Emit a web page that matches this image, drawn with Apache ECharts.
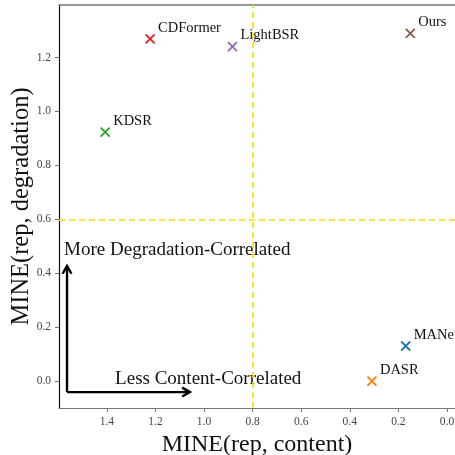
<!DOCTYPE html>
<html><head><meta charset="utf-8">
<script src="https://cdn.jsdelivr.net/npm/echarts@6/dist/echarts.min.js"></script>
<style>html,body{margin:0;padding:0;background:#fff}#c{width:455px;height:455px}</style>
</head><body><div id="c"></div>
<script>
const methods = ['MANet', 'DASR', 'KDSR', 'CDFormer', 'LightBSR', 'Ours'];
const contentMI = [0.170, 0.309, 1.407, 1.222, 0.883, 0.151];
const degradationMI = [0.130, 0.000, 0.923, 1.269, 1.241, 1.290];
const colors = ['#1f77b4', '#ff7f0e', '#2ca02c', '#d62728', '#9467bd', '#8c564b'];
const xTicks = [0.0, 0.2, 0.4, 0.6, 0.8, 1.0, 1.2, 1.4];
const yTicks = [0.0, 0.2, 0.4, 0.6, 0.8, 1.0, 1.2];
const thresholdX = 0.8, thresholdY = 0.6;
const arrows = [[1.564, -0.041, 1.564, 0.427], [1.564, -0.041, 1.058, -0.041]];
const notes = [['More Degradation-Correlated', 1.576, 0.487], ['Less Content-Correlated', 1.366, 0.0085]];

const serif = '"Liberation Serif", "DejaVu Serif", serif';
const chart = echarts.init(document.getElementById('c'));
const markerPath = 'path://M0,0L10,10M10,0L0,10';

const pointSeries = methods.map((m, i) => ({
  type: 'scatter',
  name: m,
  data: [[contentMI[i], degradationMI[i]]],
  symbol: markerPath,
  symbolSize: 9,
  itemStyle: { color: 'none', borderColor: colors[i], borderWidth: 1.8, opacity: 1 },
  label: {
    show: true, formatter: m, position: 'right', offset: [-4, -11],
    fontFamily: serif, fontSize: 14.5, color: '#111'
  },
  z: 5
}));

chart.setOption({
  animation: false,
  grid: { left: 59, top: 5, right: 0, bottom: 47, show: false, containLabel: false, outerBoundsMode: 'none' },
  xAxis: [{
    type: 'value', inverse: true, min: -0.033, max: 1.597,
    axisLine: { show: true, onZero: false, lineStyle: { color: '#777', width: 1.2 } },
    axisTick: { show: true, customValues: xTicks, length: 4, lineStyle: { color: '#777' } },
    axisLabel: { customValues: xTicks, formatter: v => v.toFixed(1), fontFamily: serif, fontSize: 11.5, color: '#444', margin: 8, hideOverlap: false },
    splitLine: { show: false },
    name: 'MINE(rep, content)', nameLocation: 'middle', nameGap: 22,
    nameTextStyle: { fontFamily: serif, fontSize: 24, color: '#111' }
  }, {
    type: 'value', inverse: true, min: -0.033, max: 1.597, position: 'top',
    axisLine: { show: true, onZero: false, lineStyle: { color: '#777', width: 1.5 } },
    axisTick: { show: false }, axisLabel: { show: false }, splitLine: { show: false }
  }],
  yAxis: {
    type: 'value', min: -0.1, max: 1.395,
    axisLine: { show: true, onZero: false, lineStyle: { color: '#111', width: 1.2 } },
    axisTick: { show: true, customValues: yTicks, length: 4, lineStyle: { color: '#777' } },
    axisLabel: { customValues: yTicks, formatter: v => v.toFixed(1), fontFamily: serif, fontSize: 11.5, color: '#444', margin: 8 },
    splitLine: { show: false },
    name: 'MINE(rep, degradation)', nameLocation: 'middle', nameGap: 25, nameMoveOverlap: false,
    nameTextStyle: { fontFamily: serif, fontSize: 24.5, color: '#111' }
  },
  series: [
    {
      type: 'line', data: [], silent: true,
      markLine: {
        silent: true, symbol: 'none', animation: false,
        lineStyle: { color: '#FFD700', type: [6, 4], width: 1.6 },
        label: { show: false },
        data: [{ xAxis: thresholdX }, { yAxis: thresholdY }]
      }
    },
    {
      type: 'custom', silent: true, z: 4,
      data: arrows,
      renderItem: (params, api) => {
        const p1 = api.coord([api.value(0), api.value(1)]);
        const p2 = api.coord([api.value(2), api.value(3)]);
        const ang = Math.atan2(p2[1] - p1[1], p2[0] - p1[0]);
        const L = 9, a = 0.52;
        const h1 = [p2[0] - L * Math.cos(ang - a), p2[1] - L * Math.sin(ang - a)];
        const h2 = [p2[0] - L * Math.cos(ang + a), p2[1] - L * Math.sin(ang + a)];
        const st = { stroke: '#000', lineWidth: 2.4, fill: 'none' };
        return { type: 'group', children: [
          { type: 'line', shape: { x1: p1[0], y1: p1[1], x2: p2[0], y2: p2[1] }, style: st },
          { type: 'polyline', shape: { points: [h1, p2, h2] }, style: st }
        ] };
      }
    },
    {
      type: 'scatter', silent: true, symbolSize: 0,
      itemStyle: { opacity: 1 },
      data: notes.map(n => ({ value: [n[1], n[2]], name: n[0] })),
      label: { show: true, formatter: p => p.name, position: 'right', offset: [-5, 0],
        fontFamily: serif, fontSize: 19, color: '#111' }
    },
    ...pointSeries
  ]
});
</script></body></html>
